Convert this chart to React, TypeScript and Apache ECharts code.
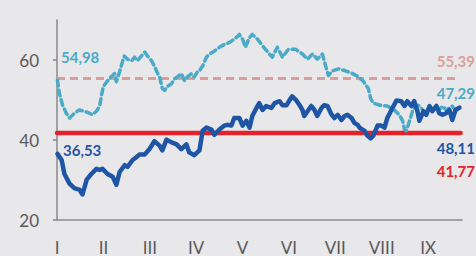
import React, { useEffect, useRef } from "react";
import * as echarts from "echarts";

const monthLabels = ["I", "II", "III", "IV", "V", "VI", "VII", "VIII", "IX"];
const yTicks = [20, 40, 60];

const blueMonths = [0.01, 0.1, 0.16, 0.27, 0.38, 0.48, 0.55, 0.64, 0.74, 0.85, 0.92, 0.98, 1.09, 1.2, 1.28, 1.35, 1.46, 1.52, 1.63, 1.71, 1.78, 1.89, 1.99, 2.1, 2.21, 2.27, 2.36, 2.47, 2.58, 2.68, 2.79, 2.85, 2.96, 3.07, 3.14, 3.22, 3.33, 3.39, 3.5, 3.61, 3.67, 3.76, 3.82, 3.93, 4.0, 4.08, 4.15, 4.21, 4.3, 4.36, 4.43, 4.51, 4.62, 4.69, 4.8, 4.86, 4.95, 5.01, 5.07, 5.16, 5.23, 5.29, 5.33, 5.4, 5.48, 5.55, 5.61, 5.7, 5.76, 5.83, 5.92, 5.98, 6.05, 6.13, 6.2, 6.26, 6.35, 6.41, 6.48, 6.52, 6.63, 6.69, 6.76, 6.82, 6.91, 6.99, 7.06, 7.12, 7.23, 7.32, 7.42, 7.49, 7.55, 7.64, 7.7, 7.77, 7.81, 7.9, 7.96, 8.03, 8.09, 8.18, 8.24, 8.31, 8.39, 8.46, 8.52, 8.59, 8.675];
const blueValues = [36.53, 35.0, 31.5, 29.1, 27.9, 27.6, 26.4, 30.1, 31.5, 32.8, 32.5, 32.8, 31.5, 30.8, 28.8, 32.0, 33.7, 33.3, 35.0, 35.7, 36.4, 36.4, 37.7, 39.7, 38.6, 37.4, 40.1, 39.4, 38.9, 37.7, 38.9, 36.9, 36.2, 37.4, 42.3, 43.1, 42.6, 41.3, 42.6, 43.6, 43.8, 43.6, 45.5, 45.5, 43.6, 44.8, 43.1, 46.0, 48.0, 49.2, 47.5, 48.5, 48.0, 49.2, 49.7, 48.7, 48.7, 49.9, 50.9, 49.9, 48.7, 47.5, 46.0, 47.2, 48.5, 47.5, 46.0, 48.0, 48.7, 48.5, 46.3, 45.5, 46.3, 45.0, 46.0, 46.3, 45.5, 44.3, 43.8, 43.1, 42.3, 41.1, 40.4, 41.1, 43.6, 43.6, 43.1, 45.5, 48.0, 49.9, 49.7, 48.5, 49.7, 48.5, 49.7, 47.2, 44.8, 47.2, 46.3, 48.5, 47.2, 48.5, 46.7, 46.3, 46.7, 47.5, 45.0, 47.5, 48.11];

const tealMonths = [0.01, 0.05, 0.12, 0.2, 0.27, 0.38, 0.48, 0.59, 0.7, 0.77, 0.87, 0.92, 0.96, 1.0, 1.09, 1.17, 1.24, 1.28, 1.35, 1.41, 1.45, 1.52, 1.61, 1.67, 1.73, 1.82, 1.89, 1.95, 2.04, 2.1, 2.17, 2.21, 2.27, 2.32, 2.38, 2.47, 2.53, 2.6, 2.68, 2.75, 2.81, 2.9, 2.96, 3.03, 3.07, 3.14, 3.22, 3.29, 3.39, 3.5, 3.61, 3.72, 3.82, 3.89, 3.93, 4.0, 4.06, 4.15, 4.21, 4.32, 4.49, 4.64, 4.75, 4.86, 4.99, 5.14, 5.29, 5.4, 5.51, 5.61, 5.72, 5.79, 5.85, 5.94, 6.07, 6.22, 6.37, 6.5, 6.61, 6.71, 6.76, 6.82, 6.97, 7.12, 7.27, 7.38, 7.45, 7.49, 7.53, 7.6, 7.67, 7.75, 7.82, 7.88, 7.95, 8.03, 8.09, 8.18, 8.24, 8.31, 8.39, 8.46, 8.52, 8.59];
const tealValues = [54.98, 51.7, 48.7, 46.7, 45.5, 46.7, 47.5, 47.2, 46.7, 46.3, 47.5, 48.5, 51.2, 53.4, 54.8, 55.8, 56.6, 54.6, 57.1, 59.5, 61.0, 60.2, 59.8, 60.7, 59.8, 61.0, 62.0, 61.0, 59.8, 58.5, 56.6, 55.8, 52.9, 52.4, 53.4, 54.1, 55.3, 55.8, 56.6, 54.8, 55.8, 56.6, 55.8, 57.1, 57.3, 58.5, 60.7, 61.5, 62.2, 63.2, 63.9, 64.4, 65.2, 65.9, 66.4, 65.2, 63.2, 65.6, 66.4, 65.2, 62.7, 60.7, 63.2, 60.7, 62.7, 62.7, 61.5, 60.2, 61.5, 60.2, 61.5, 58.5, 56.1, 57.3, 57.8, 57.3, 56.6, 55.8, 54.6, 52.9, 50.4, 49.2, 48.7, 48.5, 47.5, 46.3, 44.8, 42.6, 42.3, 44.8, 47.5, 48.7, 48.5, 47.5, 46.3, 48.0, 47.2, 48.7, 47.5, 48.5, 47.5, 48.0, 48.5, 47.29];

const pinkLevel = 55.39;
const pinkSpan = [0, 8.6];
const redLevel = 41.77;
const redSpan = [0, 8.7];

const FONT = "Lato, 'Open Sans', sans-serif";
const C_BLUE = "#1f55a5";
const C_TEAL = "#4aabc8";
const C_PINK = "#dc9e9c";
const C_RED = "#e2232b";

export default function App() {
  const ref = useRef<HTMLDivElement>(null);
  useEffect(() => {
    if (!ref.current) return;
    const chart = echarts.init(ref.current, null, { renderer: "svg" });
    const zip = (xs: number[], ys: number[]) => xs.map((x, i) => [x, ys[i]]);
    const label = (text: string, color: string, x: number, y: number, align: string) => ({
      type: "text",
      x,
      y,
      style: {
        text,
        fill: color,
        font: `bold 15px ${FONT}`,
        textAlign: align,
        textVerticalAlign: "middle",
      },
    });
    chart.setOption({
      animation: false,
      backgroundColor: "#e8e8ea",
      grid: { left: 57, right: 14, top: 20, bottom: 32, containLabel: false },
      xAxis: {
        type: "value",
        min: 0,
        max: 8.73,
        axisLine: { show: true, lineStyle: { color: "#8a8a8a", width: 1.5 } },
        axisTick: { show: false },
        splitLine: { show: false },
        axisLabel: {
          customValues: [0, 1, 2, 3, 4, 5, 6, 7, 8],
          formatter: (v: number) => monthLabels[Math.round(v)] ?? "",
          color: "#595959",
          fontFamily: FONT,
          fontSize: 17,
          margin: 19,
        },
      },
      yAxis: {
        type: "value",
        min: 20,
        max: 70,
        axisLine: { show: true, lineStyle: { color: "#8a8a8a", width: 1.5 } },
        axisTick: { show: true, customValues: yTicks, length: 4, lineStyle: { color: "#8a8a8a", width: 1.5 } },
        splitLine: { show: false },
        axisLabel: {
          customValues: yTicks,
          color: "#595959",
          fontFamily: FONT,
          fontSize: 17,
          margin: 18,
        },
      },
      series: [
        {
          type: "line",
          data: [[redSpan[0], redLevel], [redSpan[1], redLevel]],
          symbol: "none",
          lineStyle: { color: C_RED, width: 4.5, cap: "round" },
          z: 2,
        },
        {
          type: "line",
          data: [[pinkSpan[0], pinkLevel], [pinkSpan[1], pinkLevel]],
          symbol: "none",
          lineStyle: { color: C_PINK, width: 3, type: [8, 5] },
          z: 3,
        },
        {
          type: "line",
          data: zip(tealMonths, tealValues),
          symbol: "none",
          lineStyle: { color: C_TEAL, width: 3.5, type: [6, 4], cap: "round", join: "round" },
          z: 4,
        },
        {
          type: "line",
          data: zip(blueMonths, blueValues),
          symbol: "none",
          lineStyle: { color: C_BLUE, width: 4.5, cap: "round", join: "round" },
          z: 5,
        },
      ],
      graphic: [
        label("54,98", C_TEAL, 61, 57, "left"),
        label("36,53", C_BLUE, 63, 150, "left"),
        label("55,39", C_PINK, 475, 61, "right"),
        label("47,29", C_TEAL, 475, 93, "right"),
        label("48,11", C_BLUE, 475, 148, "right"),
        label("41,77", C_RED, 475, 171, "right"),
      ],
    });
    return () => chart.dispose();
  }, []);
  return (
    <div
      ref={ref}
      style={{ position: "fixed", left: 0, top: 0, width: 476, height: 256 }}
    />
  );
}
